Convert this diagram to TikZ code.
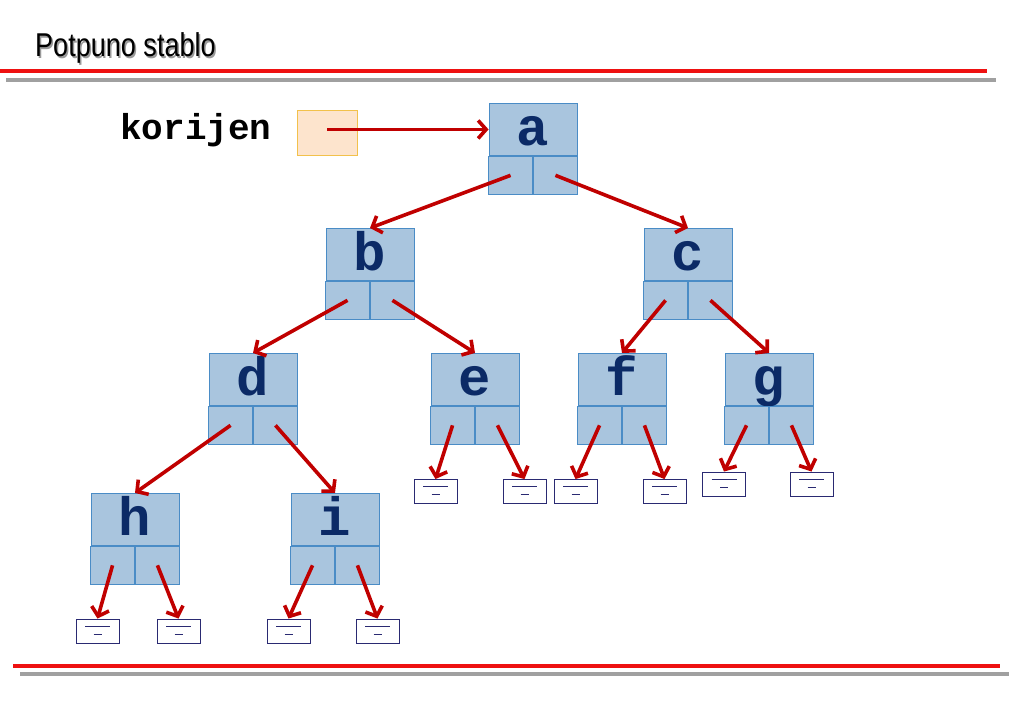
\documentclass[tikz,border=0pt]{standalone}
\usepackage{fontspec}
\setmainfont{Liberation Sans}
\newfontfamily\titlefont[FakeStretch=0.82]{Liberation Sans}
\newfontfamily\codefont{Liberation Mono}
\usetikzlibrary{arrows.meta}
\definecolor{nodefill}{HTML}{A9C5DE}
\definecolor{nodeline}{HTML}{4A8CC6}
\definecolor{letter}{HTML}{0B2A66}
\definecolor{arrowred}{HTML}{C00000}
\definecolor{rootfill}{HTML}{FDE4CD}
\definecolor{rootline}{HTML}{F2C14B}
\definecolor{nullline}{HTML}{2A2A72}
\definecolor{rulered}{HTML}{EE1111}
\definecolor{rulegray}{HTML}{A0A0A0}
\tikzset{
  x=1pt, y=-1pt,
  treetop/.style={draw=nodeline, fill=nodefill, line width=0.9pt, minimum width=88pt, minimum height=52pt, inner sep=0pt,
     text height=36pt, text depth=4pt,
     font=\codefont\bfseries\fontsize{54}{54}\selectfont, text=letter},
  cell/.style={draw=nodeline, fill=nodefill, line width=0.9pt, minimum width=44pt, minimum height=38pt, inner sep=0pt},
  nullbox/.style={draw=nullline, fill=white, line width=0.9pt, minimum width=43pt, minimum height=24pt, inner sep=0pt,
     path picture={
       \draw[nullline, line width=0.9pt] ([xshift=-12.5pt,yshift=5pt]path picture bounding box.center) -- ([xshift=12.5pt,yshift=5pt]path picture bounding box.center);
       \draw[nullline, line width=0.9pt] ([xshift=-4pt,yshift=-3pt]path picture bounding box.center) -- ([xshift=4pt,yshift=-3pt]path picture bounding box.center);
     }},
  link/.style={draw=arrowred, line width=3.6pt, -{Straight Barb[length=8pt,width=18pt]}, shorten >=0pt},
}
\newcommand{\treenode}[4]{% name, x(center), y(top), letter
  \node[treetop, anchor=north] (#1) at (#2,#3) {#4};
  \node[cell, anchor=north east] (#1L) at (#1.south) {};
  \node[cell, anchor=north west] (#1R) at (#1.south) {};
}
\begin{document}
\begin{tikzpicture}
\useasboundingbox (0,0) rectangle (1023,708);
% title
\node[anchor=base west, inner sep=0pt, text=black!40, font=\titlefont\fontsize{33}{33}\selectfont] (titleshadow) at (36.5,58.5) {Potpuno stablo};
\node[anchor=base west, inner sep=0pt, text=black, font=\titlefont\fontsize{33}{33}\selectfont] (title) at (35,57) {Potpuno stablo};
% rules
\fill[rulered] (0,69) rectangle (987,73);
\fill[rulegray] (6,78) rectangle (996,82);
\fill[rulered] (13,664) rectangle (1000,668);
\fill[rulegray] (20,672) rectangle (1009,676);
% root pointer
\node[anchor=center, inner sep=0pt, font=\codefont\bfseries\fontsize{36}{36}\selectfont] (korijen) at (196,130) {korijen};
\node[draw=rootline, fill=rootfill, line width=0.9pt, minimum width=60pt, minimum height=45pt, inner sep=0pt] (root) at (327,132.5) {};
% tree nodes
\treenode{a}{533}{103}{a}
\treenode{b}{370}{228}{b}
\treenode{c}{688}{228}{c}
\treenode{d}{253}{353}{d}
\treenode{e}{475}{353}{e}
\treenode{f}{622}{353}{f}
\treenode{g}{769}{353}{g}
\treenode{h}{135}{493}{h}
\treenode{i}{335}{493}{i}
% null boxes
\node[nullbox] (hn1) at (97.5,631) {};
\node[nullbox] (hn2) at (178.5,631) {};
\node[nullbox] (in1) at (288.5,631) {};
\node[nullbox] (in2) at (377.5,631) {};
\node[nullbox] (en1) at (435.5,491.5) {};
\node[nullbox] (en2) at (524.5,491.5) {};
\node[nullbox] (fn1) at (575.5,491.5) {};
\node[nullbox] (fn2) at (664.5,491.5) {};
\node[nullbox] (gn1) at (724,484) {};
\node[nullbox] (gn2) at (811.5,484) {};
% connectors
\draw[link] (root.center |- a.west) -- (a.west);
\draw[link] (aL.center) -- (b.north);
\draw[link] (aR.center) -- (c.north);
\draw[link] (bL.center) -- (d.north);
\draw[link] (bR.center) -- (e.north);
\draw[link] (cL.center) -- (f.north);
\draw[link] (cR.center) -- (g.north);
\draw[link] (dL.center) -- (h.north);
\draw[link] (dR.center) -- (i.north);
\draw[link] (eL.center) -- (en1.north);
\draw[link] (eR.center) -- (en2.north);
\draw[link] (fL.center) -- (fn1.north);
\draw[link] (fR.center) -- (fn2.north);
\draw[link] (gL.center) -- (gn1.north);
\draw[link] (gR.center) -- (gn2.north);
\draw[link] (hL.center) -- (hn1.north);
\draw[link] (hR.center) -- (hn2.north);
\draw[link] (iL.center) -- (in1.north);
\draw[link] (iR.center) -- (in2.north);
\end{tikzpicture}
\end{document}
